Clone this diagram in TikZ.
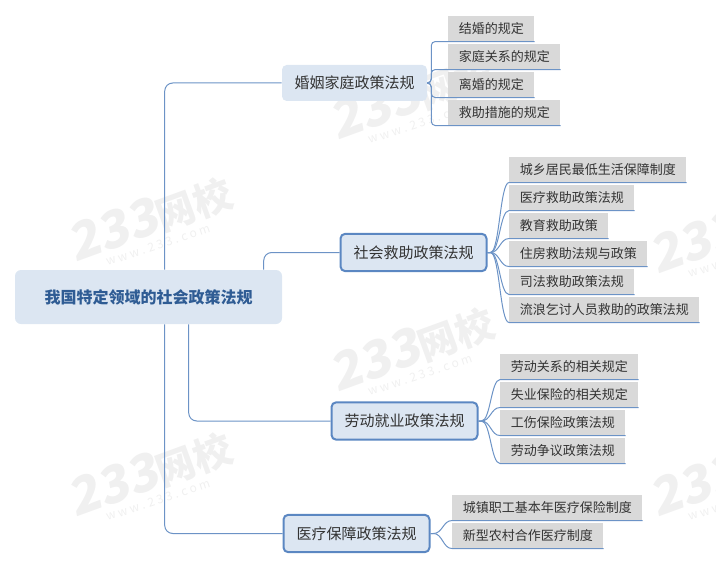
\documentclass[tikz,border=0pt]{standalone}
\usepackage{fontspec}
\setmainfont{Noto Sans CJK SC}
\newfontfamily\wmfont[FakeSlant=0.18]{Noto Sans CJK SC}
\definecolor{mapfill}{HTML}{DCE6F2}
\definecolor{mapline}{HTML}{6C93C6}
\definecolor{mapedge}{HTML}{5B87C2}
\definecolor{maptext}{HTML}{2F5C94}
\definecolor{leafgrey}{HTML}{D9D9D9}
\tikzset{
 rootbox/.style={fill=mapfill,rounded corners=4.5pt,text=maptext,font=\fontsize{12}{14}\selectfont\bfseries,minimum width=200.25pt,minimum height=40.5pt,inner sep=0pt},
 plainbox/.style={fill=mapfill,rounded corners=3.5pt,text=black!80,font=\fontsize{11.25}{13}\selectfont,minimum width=108.75pt,minimum height=27pt,inner sep=0pt},
 edgebox/.style={plainbox,draw=mapedge,line width=1.5pt,minimum width=109.5pt,minimum height=28pt},
 leafbox/.style={fill=leafgrey,anchor=north west,text=black!80,font=\fontsize{9.75}{12}\selectfont,inner xsep=7.9pt,inner ysep=0pt,minimum height=18.75pt},
 link/.style={draw=mapline,line width=0.75pt},
 wmark/.style={text=black!6,font=\fontsize{38}{40}\selectfont,rotate=20,inner sep=0pt},
 wmsub/.style={text=black!6,font=\fontsize{9}{11}\selectfont,rotate=18,inner sep=0pt}
}
\begin{document}
\begin{tikzpicture}[x=0.75pt,y=-0.75pt]
\useasboundingbox (0,0) rectangle (716,570);
\foreach \wx/\wy in {150/218,412/96,412/348,150/473,732/230,732/473}{
 \node[wmark] (wm\wx\wy) at (\wx,\wy) {{\wmfont\bfseries 233}{\fontsize{29}{30}\selectfont\bfseries 网校}};
 \node[wmsub] (ws\wx\wy) at (\wx+8,\wy+27) {w w w . 2 3 3 . c o m};
}
\node[rootbox] (root) at (148.5,297) {我国特定领域的社会政策法规};
\node[plainbox] (hunyin) at (354.5,83) {婚姻家庭政策法规};
\node[edgebox] (shehui) at (413.5,252.5) {社会救助政策法规};
\node[edgebox] (laodong) at (404.5,421) {劳动就业政策法规};
\node[edgebox] (yiliao) at (356.5,533.5) {医疗保障政策法规};
\node[leafbox] (hya) at (448,16) {结婚的规定};
\node[leafbox] (hyb) at (448,44) {家庭关系的规定};
\node[leafbox] (hyc) at (448,72) {离婚的规定};
\node[leafbox] (hyd) at (448,100) {救助措施的规定};
\node[leafbox] (sha) at (509,157) {城乡居民最低生活保障制度};
\node[leafbox] (shb) at (509,185) {医疗救助政策法规};
\node[leafbox] (shc) at (509,213) {教育救助政策};
\node[leafbox] (shd) at (509,241) {住房救助法规与政策};
\node[leafbox] (she) at (509,269) {司法救助政策法规};
\node[leafbox] (shf) at (509,297) {流浪乞讨人员救助的政策法规};
\node[leafbox] (lda) at (500,354) {劳动关系的相关规定};
\node[leafbox] (ldb) at (500,382) {失业保险的相关规定};
\node[leafbox] (ldc) at (500,410) {工伤保险政策法规};
\node[leafbox] (ldd) at (500,438) {劳动争议政策法规};
\node[leafbox] (yla) at (452,495) {城镇职工基本年医疗保险制度};
\node[leafbox] (ylb) at (452,523) {新型农村合作医疗制度};
\draw[link,rounded corners=6pt] (root.north west) ++(150,0) |- (hunyin.west);
\draw[link,rounded corners=6pt] (root.north west) ++(249,0) |- (shehui.west);
\draw[link,rounded corners=6pt] (root.south west) ++(174,0) |- (laodong.west);
\draw[link,rounded corners=6pt] (root.south west) ++(150,0) |- (yiliao.west);
\foreach \leaf in {hya,hyb,hyc,hyd}
 \draw[link,rounded corners=3pt] (hunyin.east) -- ++(4,0) |- (\leaf.south east);
\foreach \leaf in {sha,shb,shc,shd,she,shf}
 \draw[link] (shehui.east) -- ++(3,0) .. controls +(9,0) and +(-9,0) .. (\leaf.south west) -- (\leaf.south east);
\foreach \leaf in {lda,ldb,ldc,ldd}
 \draw[link] (laodong.east) -- ++(3,0) .. controls +(9,0) and +(-9,0) .. (\leaf.south west) -- (\leaf.south east);
\foreach \leaf in {yla,ylb}
 \draw[link] (yiliao.east) -- ++(3,0) .. controls +(9,0) and +(-9,0) .. (\leaf.south west) -- (\leaf.south east);
\end{tikzpicture}
\end{document}
